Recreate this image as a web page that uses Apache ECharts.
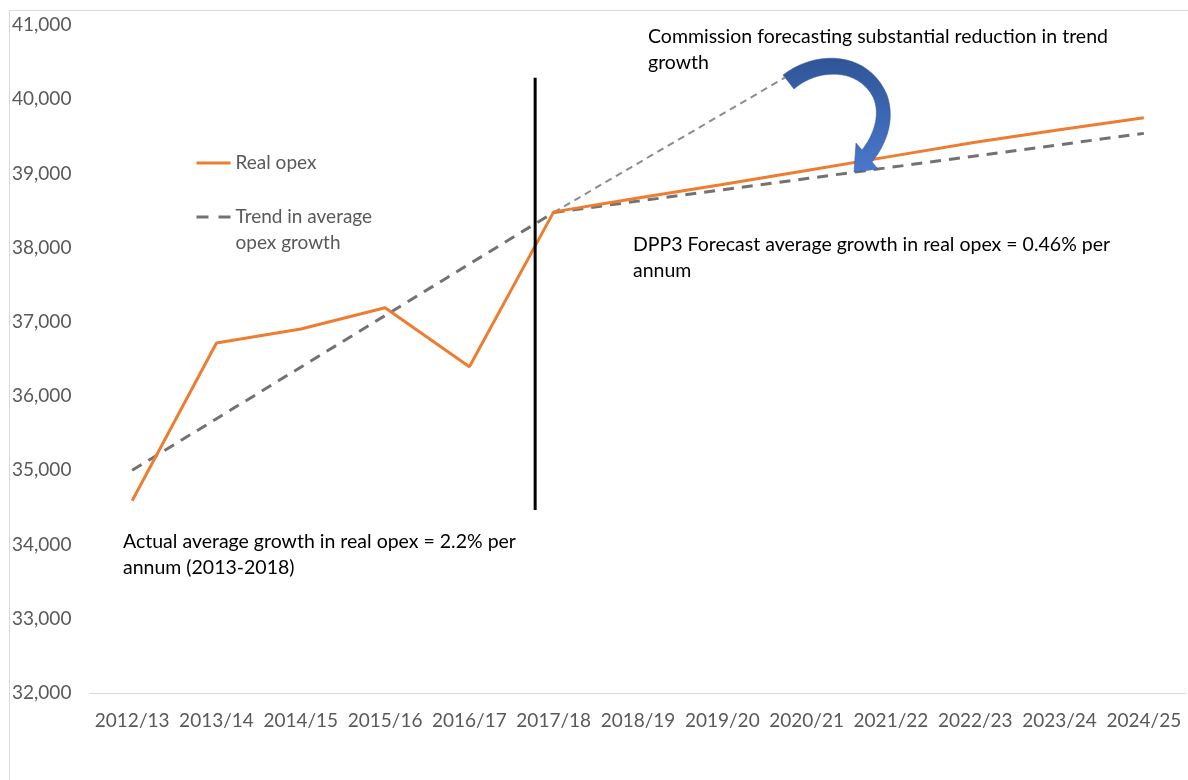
<!DOCTYPE html>
<html>
<head>
<meta charset="utf-8">
<script src="https://cdn.jsdelivr.net/npm/echarts@6/dist/echarts.min.js"></script>
<style>
html,body{margin:0;padding:0;background:#fff;}
#chart{width:1188px;height:780px;}
</style>
</head>
<body>
<div id="chart"></div>
<script>
const categories = ['2012/13','2013/14','2014/15','2015/16','2016/17','2017/18','2018/19','2019/20','2020/21','2021/22','2022/23','2023/24','2024/25'];
const realOpex = [34590, 36715, 36905, 37190, 36395, 38482, 38670, 38850, 39040, 39230, 39420, 39590, 39750];
const trendOpex = [35000, 35695, 36390, 37085, 37780, 38475, 38627, 38779, 38931, 39083, 39235, 39387, 39540];
const yTicks = {min: 32000, max: 41000, interval: 1000};
// annotation lines, in [category position, value]
const oldTrendExtension = [[5, 38475], [7.74, 40290]];
const dividerLine = [[4.78, 34466], [4.78, 40290]];

const FONT = 'Lato, "Open Sans", sans-serif';
const ANN_FONT = '19.5px ' + FONT;

// curved block arrow outline (decoration), sampled from cubic curves
function cubic(p0, p1, p2, p3, n) {
  const out = [];
  for (let i = 1; i <= n; i++) {
    const t = i / n, u = 1 - t;
    out.push([
      u*u*u*p0[0] + 3*u*u*t*p1[0] + 3*u*t*t*p2[0] + t*t*t*p3[0],
      u*u*u*p0[1] + 3*u*u*t*p1[1] + 3*u*t*t*p2[1] + t*t*t*p3[1]
    ]);
  }
  return out;
}
const arrowPts = [[783, 75]]
  .concat(cubic([783,75],[815,50],[868,50],[887,95],20))
  .concat(cubic([887,95],[895,118],[888,142],[872,162],14))
  .concat([[878,169],[854,172],[856,143],[862,150]])
  .concat(cubic([862,150],[876,132],[880,112],[873,97],14))
  .concat(cubic([873,97],[858,68],[818,68],[794,89],20));

const chart = echarts.init(document.getElementById('chart'));

const option = {
  animation: false,
  backgroundColor: '#ffffff',
  grid: {left: 90, right: 2, top: 25, bottom: 87, containLabel: false},
  legend: {
    orient: 'vertical',
    left: 195,
    top: 150,
    padding: 0,
    itemWidth: 34,
    itemHeight: 14,
    itemGap: 2,
    itemStyle: {opacity: 0, borderWidth: 0},
    lineStyle: {width: 3},
    textStyle: {
      color: '#595959', fontSize: 19, fontFamily: FONT, lineHeight: 26,
      rich: {
        a: {color: '#595959', fontSize: 19, fontFamily: FONT, lineHeight: 26},
        s: {fontSize: 19, fontFamily: FONT, lineHeight: 26}
      }
    },
    data: [
      {name: 'Real opex'},
      {name: 'Trend in average opex growth', lineStyle: {width: 3, type: [12, 10]}}
    ],
    formatter: function (n) {
      return n === 'Trend in average opex growth'
        ? '{s| }\n{a|Trend in average}\n{a|opex growth}'
        : '{a|' + n + '}';
    }
  },
  xAxis: [
    {
      type: 'category',
      data: categories,
      boundaryGap: true,
      axisLine: {show: true, lineStyle: {color: '#d9d9d9', width: 1}},
      axisTick: {show: false},
      axisLabel: {color: '#595959', fontSize: 19, fontFamily: FONT, margin: 18, interval: 0},
      splitLine: {show: false}
    },
    {
      type: 'value', min: -0.5, max: 12.5, show: false
    }
  ],
  yAxis: {
    type: 'value',
    min: yTicks.min, max: yTicks.max, interval: yTicks.interval,
    axisLine: {show: false},
    axisTick: {show: false},
    splitLine: {show: false},
    axisLabel: {
      color: '#595959', fontSize: 19, fontFamily: FONT, align: 'left', margin: 78,
      formatter: function (v) { return v.toLocaleString('en-US'); }
    }
  },
  series: [
    {
      name: 'Trend extension', type: 'line', xAxisIndex: 1, data: oldTrendExtension,
      symbol: 'none', silent: true, z: 1,
      lineStyle: {color: '#8c8c8c', width: 2, type: [7, 5]}
    },
    {
      name: 'Trend in average opex growth', type: 'line', data: trendOpex,
      symbol: 'none', z: 2,
      lineStyle: {color: '#767171', width: 3, type: [11, 8]},
      itemStyle: {color: '#767171'}
    },
    {
      name: 'Real opex', type: 'line', data: realOpex,
      symbol: 'none', z: 3,
      lineStyle: {color: '#ed7d31', width: 3},
      itemStyle: {color: '#ed7d31'}
    },
    {
      name: 'Divider', type: 'line', xAxisIndex: 1, data: dividerLine,
      symbol: 'none', silent: true, z: 4,
      lineStyle: {color: '#000000', width: 3}
    }
  ],
  graphic: [
    {
      type: 'rect', z: -10, silent: true,
      shape: {x: 9.5, y: 10.5, width: 1300, height: 900},
      style: {fill: 'none', stroke: '#d9d9d9', lineWidth: 1}
    },
    {
      type: 'polygon', z: 100, silent: true,
      shape: {points: arrowPts},
      style: {
        fill: {type: 'linear', x: 0, y: 0, x2: 0, y2: 1, global: false,
          colorStops: [{offset: 0, color: '#2f5597'}, {offset: 1, color: '#4a78cc'}]},
        stroke: '#2f5597', lineWidth: 0.5
      }
    },
    {
      type: 'text', silent: true, z: 50,
      style: {x: 648, y: 24, text: 'Commission forecasting substantial reduction in trend\ngrowth',
        fill: '#000', font: ANN_FONT, lineHeight: 26, verticalAlign: 'top', align: 'left'}
    },
    {
      type: 'text', silent: true, z: 50,
      style: {x: 633, y: 232, text: 'DPP3 Forecast average growth in real opex = 0.46% per\nannum',
        fill: '#000', font: ANN_FONT, lineHeight: 26, verticalAlign: 'top', align: 'left'}
    },
    {
      type: 'text', silent: true, z: 50,
      style: {x: 123, y: 529, text: 'Actual average growth in real opex = 2.2% per\nannum (2013-2018)',
        fill: '#000', font: ANN_FONT, lineHeight: 26, verticalAlign: 'top', align: 'left'}
    }
  ]
};
chart.setOption(option);
</script>
</body>
</html>
